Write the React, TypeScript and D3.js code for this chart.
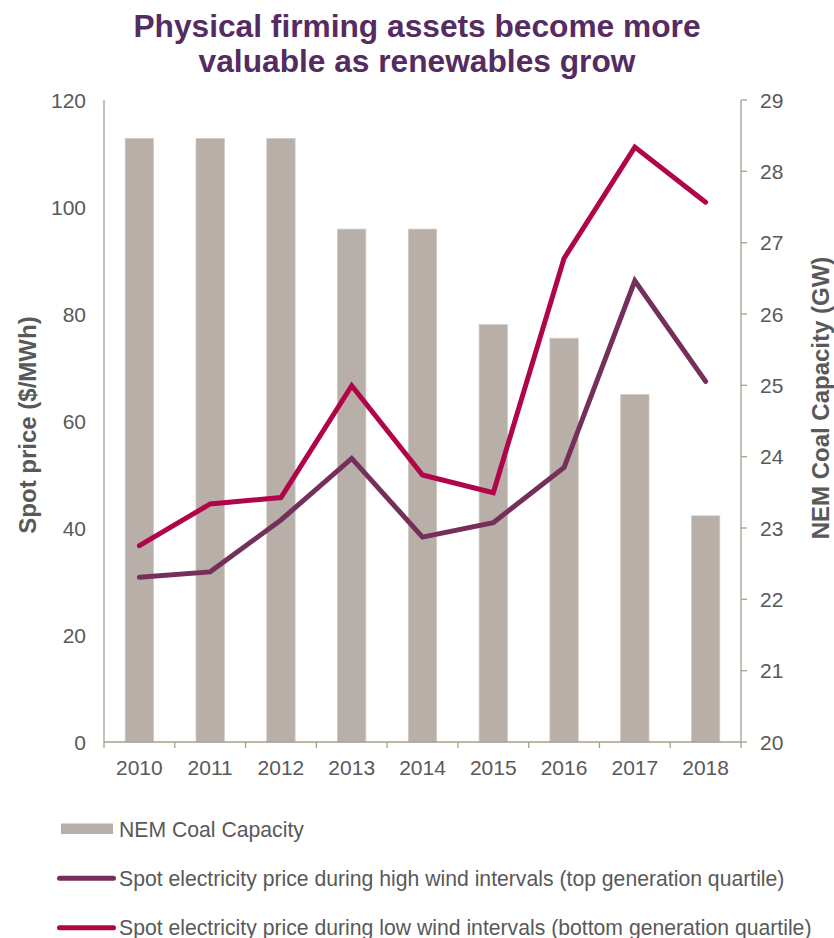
import React from "react";
import * as d3 from "d3";

const years = ["2010", "2011", "2012", "2013", "2014", "2015", "2016", "2017", "2018"];
const coalCapacity = [28.46, 28.46, 28.46, 27.19, 27.19, 25.85, 25.66, 24.87, 23.17];
const highWindPrice = [30.8, 31.8, 41.5, 53.0, 38.3, 41.0, 51.3, 86.2, 67.4];
const lowWindPrice = [36.7, 44.5, 45.7, 66.6, 49.9, 46.6, 90.4, 111.2, 100.9];
const leftTicks = [0, 20, 40, 60, 80, 100, 120];
const rightTicks = [20, 21, 22, 23, 24, 25, 26, 27, 28, 29];
const titleLines = ["Physical firming assets become more", "valuable as renewables grow"];
const legendLabels = [
  "NEM Coal Capacity",
  "Spot electricity price during high wind intervals (top generation quartile)",
  "Spot electricity price during low wind intervals (bottom generation quartile)",
];

const W = 834;
const H = 938;
const left = 104;
const right = 741;
const top = 100;
const bottom = 742;

const BAR = "#B8AFA8";
const PURPLE = "#742F5A";
const CRIMSON = "#B1054A";
const AXIS = "#A89E8C";
const TEXT = "#595959";
const TITLE = "#552C62";
const FONT = "'Liberation Sans', Arial, sans-serif";

export default function App() {
  const x = d3.scaleBand<string>().domain(years).range([left, right]).paddingInner(0.6).paddingOuter(0.3);
  const yL = d3.scaleLinear().domain([0, 120]).range([bottom, top]);
  const yR = d3.scaleLinear().domain([20, 29]).range([bottom, top]);
  const step = x.step();
  const cx = (y: string) => (x(y) as number) + x.bandwidth() / 2;

  const line = d3
    .line<number>()
    .x((_, i) => cx(years[i]))
    .y((d) => yL(d));

  const boundaries = years.map((_, i) => left + i * step).concat([right]);

  return (
    <div style={{ position: "absolute", left: 0, top: 0 }}>
      <svg width={W} height={H} style={{ display: "block", fontFamily: FONT }}>
        <rect x={0} y={0} width={W} height={H} fill="#fff" />
        {titleLines.map((t, i) => (
          <text
            key={t}
            x={417}
            y={36.5 + i * 35.5}
            textAnchor="middle"
            fontSize={31.7}
            fontWeight="bold"
            fill={TITLE}
          >
            {t}
          </text>
        ))}

        {years.map((yr, i) => (
          <rect
            key={yr}
            x={x(yr)}
            y={yR(coalCapacity[i])}
            width={x.bandwidth()}
            height={bottom - yR(coalCapacity[i])}
            fill={BAR}
            stroke="#CFC8C2"
            strokeWidth={0.8}
          />
        ))}

        <line x1={left} x2={left} y1={top} y2={bottom} stroke={AXIS} strokeWidth={1.3} />
        <line x1={right} x2={right} y1={top} y2={bottom} stroke={AXIS} strokeWidth={1.3} />
        <line x1={left} x2={right} y1={bottom} y2={bottom} stroke={AXIS} strokeWidth={1.3} />
        {boundaries.map((bx, i) => (
          <line key={i} x1={bx} x2={bx} y1={bottom} y2={bottom + 6} stroke={AXIS} strokeWidth={1.3} />
        ))}
        {rightTicks.map((t) => (
          <line key={t} x1={right} x2={right + 6} y1={yR(t)} y2={yR(t)} stroke={AXIS} strokeWidth={1.3} />
        ))}

        {leftTicks.map((t) => (
          <text key={t} x={86} y={yL(t)} dy="0.36em" textAnchor="end" fontSize={21} fill={TEXT}>
            {t}
          </text>
        ))}
        {rightTicks.map((t) => (
          <text key={t} x={760} y={yR(t)} dy="0.36em" textAnchor="start" fontSize={21} fill={TEXT}>
            {t}
          </text>
        ))}
        {years.map((yr) => (
          <text key={yr} x={cx(yr)} y={774.5} textAnchor="middle" fontSize={21} fill={TEXT}>
            {yr}
          </text>
        ))}

        <text
          transform="translate(35.5,425) rotate(-90)"
          textAnchor="middle"
          fontSize={24}
          fontWeight="bold"
          fill={TEXT}
        >
          Spot price ($/MWh)
        </text>
        <text
          transform="translate(828.5,398) rotate(-90)"
          textAnchor="middle"
          fontSize={24}
          fontWeight="bold"
          fill={TEXT}
        >
          NEM Coal Capacity (GW)
        </text>

        <path d={line(highWindPrice) || ""} fill="none" stroke={PURPLE} strokeWidth={5} strokeLinecap="round" />
        <path d={line(lowWindPrice) || ""} fill="none" stroke={CRIMSON} strokeWidth={5} strokeLinecap="round" />

        <rect x={61} y={823.5} width={52} height={10.5} fill={BAR} />
        <text x={119} y={836.5} fontSize={21.2} fill={TEXT}>
          {legendLabels[0]}
        </text>
        <line x1={59.5} x2={113.5} y1={878.3} y2={878.3} stroke={PURPLE} strokeWidth={5} strokeLinecap="round" />
        <text x={119} y={886} fontSize={21.2} fill={TEXT}>
          {legendLabels[1]}
        </text>
        <line x1={59.5} x2={113.5} y1={927.7} y2={927.7} stroke={CRIMSON} strokeWidth={5} strokeLinecap="round" />
        <text x={119} y={935} fontSize={21.2} fill={TEXT}>
          {legendLabels[2]}
        </text>
      </svg>
    </div>
  );
}
